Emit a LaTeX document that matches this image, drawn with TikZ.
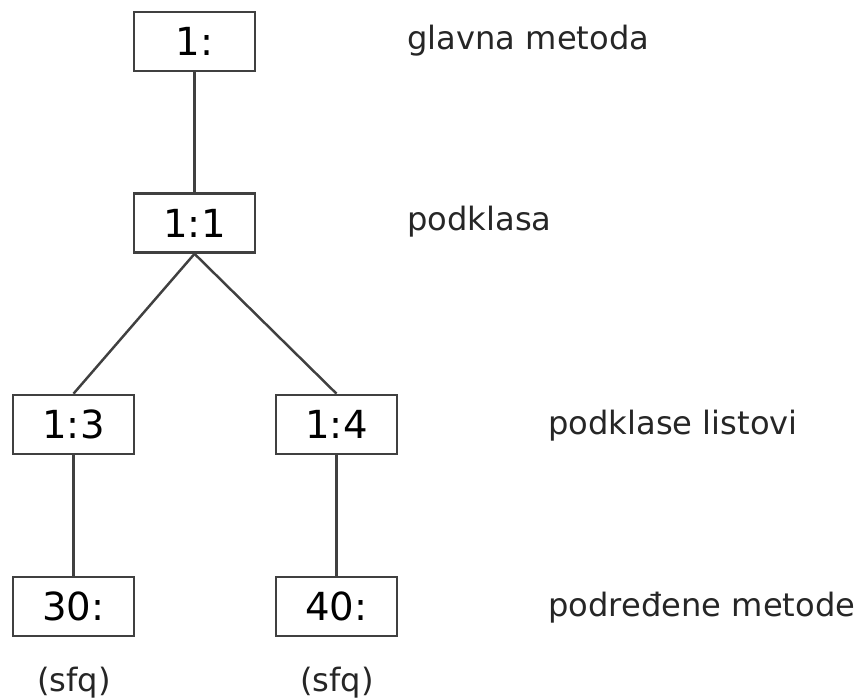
\documentclass[tikz,border=0pt]{standalone}
\usepackage{fontspec}
\setmainfont{DejaVu Sans}
\begin{document}
\begin{tikzpicture}
            [x=0.02cm, y=-0.02cm,
            methodbox/.style={draw=black!75, line width=1.5pt, rectangle, minimum width=2.42cm, minimum height=1.18cm, inner sep=0pt, font=\fontsize{22}{26}\selectfont},
            levellabel/.style={anchor=west, inner sep=0pt, text=black!85, font=\fontsize{18.3}{22}\selectfont},
            sfqlabel/.style={inner sep=0pt, text=black!85, font=\fontsize{18.3}{22}\selectfont}]

            \useasboundingbox (0,0) rectangle (857,699);

            \node[methodbox] (a1) at (194.5,41.5) {1:};
            \node[methodbox] (a2) at (194.5,223) {1:1};
            \node[methodbox] (a3) at (73.5,424.5) {1:3};
            \node[methodbox] (a4) at (336.5,424.5) {1:4};
            \node[methodbox] (a5) at (73.5,606.5) {30:};
            \node[methodbox] (a6) at (336.5,606.5) {40:};

            \node[sfqlabel] (s5) at (74,683) {(sfq)};
            \node[sfqlabel] (s6) at (337,683) {(sfq)};

            \node[levellabel] (l1) at (407,41) {glavna metoda};
            \node[levellabel] (l2) at (407,222) {podklasa};
            \node[levellabel] (l3) at (548,426) {podklase listovi};
            \node[levellabel] (l4) at (548,608) {podređene metode};

            \draw[draw=black!75, line width=1.4pt] (a1) -- (a2);
            \draw[draw=black!75, line width=1.4pt] (a2.south) -- (a3.north);
            \draw[draw=black!75, line width=1.4pt] (a2.south) -- (a4.north);
            \draw[draw=black!75, line width=1.4pt] (a3) -- (a5);
            \draw[draw=black!75, line width=1.4pt] (a4) -- (a6);

        \end{tikzpicture}
\end{document}
